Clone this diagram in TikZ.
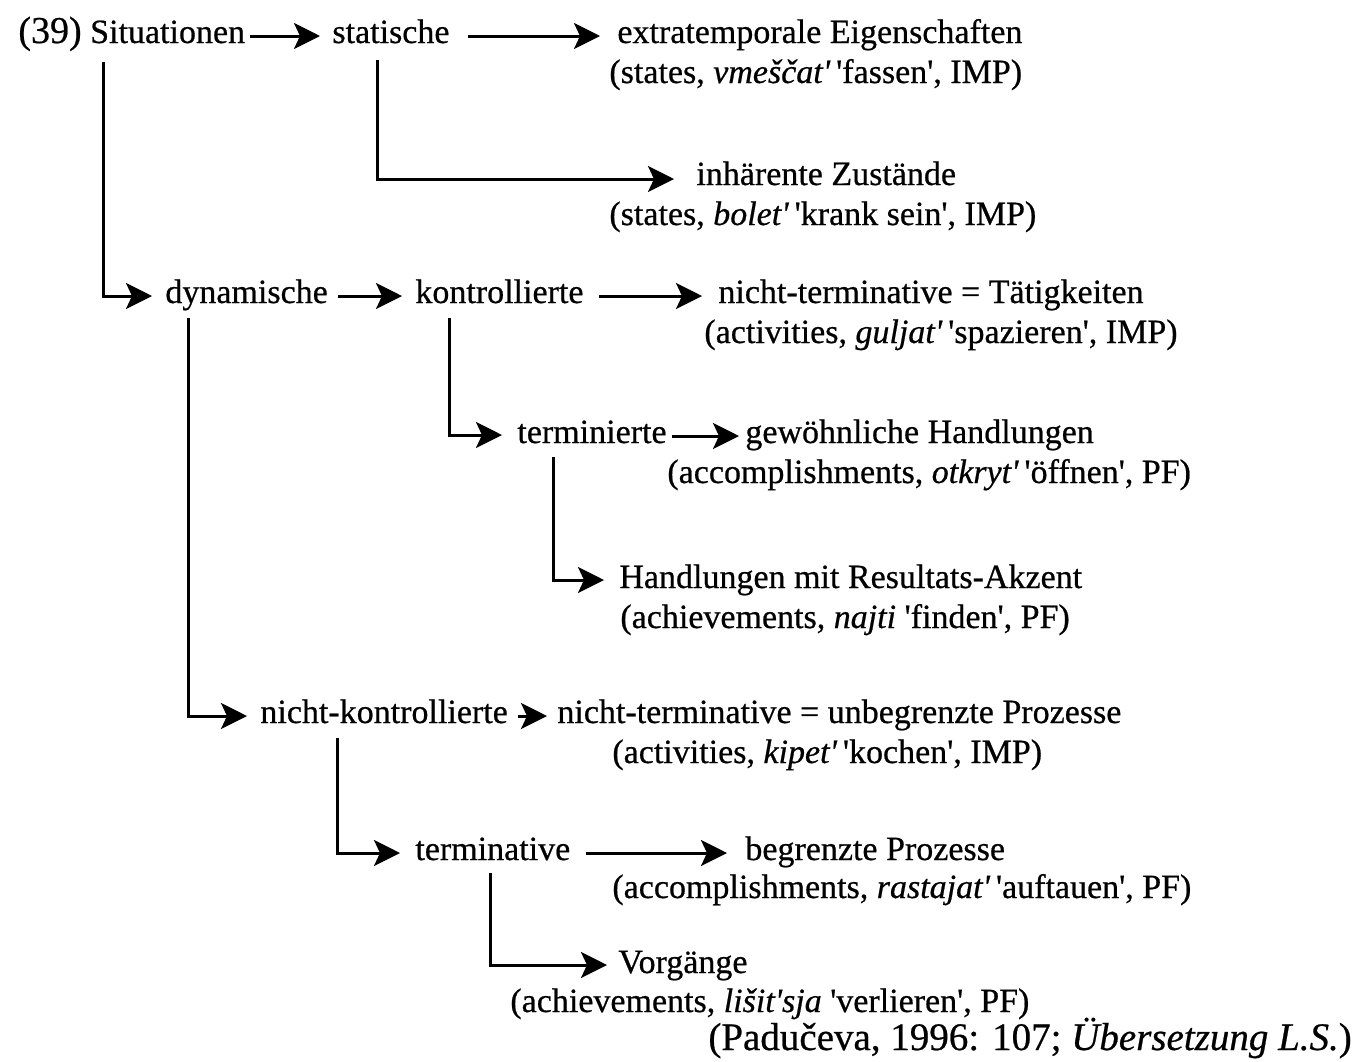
\documentclass[tikz,border=0pt]{standalone}
\usepackage{fontspec}
\setmainfont{Liberation Serif}[FakeBold=0.6]
\usetikzlibrary{arrows.meta,calc}
\newcommand{\apos}{\textquotesingle}
\begin{document}
\begin{tikzpicture}[x=0.5pt,y=-0.5pt,
  lbl/.style={anchor=base west,inner sep=0pt,font=\fontsize{17}{20}\selectfont},
  srclbl/.style={anchor=base west,inner sep=0pt,font=\fontsize{19.5}{23}\selectfont},
  conn/.style={line width=1.5pt,-{Stealth[length=13pt,width=13pt,inset=3pt]}},
  elbow/.style={conn}]
\useasboundingbox (0,0) rectangle (1354,1061);

% category labels
\node[lbl] (sit)   at (18,43)  {{\fontsize{19}{20}\selectfont(39)} Situationen};
\node[lbl] (stat)  at (332,43) {statische};
\node[lbl] (extra) at (617,43) {extratemporale Eigenschaften};
\node[lbl] (extraB) at (609,83) {(states, \textit{vmeščat\apos}\,\apos fassen\apos, IMP)};
\node[lbl] (inh)   at (696,185) {inhärente Zustände};
\node[lbl] (inhB)  at (609,225) {(states, \textit{bolet\apos}\,\apos krank sein\apos, IMP)};
\node[lbl] (dyn)   at (165,303) {dynamische};
\node[lbl] (kon)   at (415,303) {kontrollierte};
\node[lbl] (ntt)   at (718,303) {nicht-terminative = Tätigkeiten};
\node[lbl] (nttB)  at (704,343) {(activities, \textit{guljat\apos}\,\apos spazieren\apos, IMP)};
\node[lbl] (term)  at (517,443) {terminierte};
\node[lbl] (gew)   at (745,443) {gewöhnliche Handlungen};
\node[lbl] (gewB)  at (667,483) {(accomplishments, \textit{otkryt\apos}\,\apos öffnen\apos, PF)};
\node[lbl] (hmr)   at (619,588) {Handlungen mit Resultats-Akzent};
\node[lbl] (hmrB)  at (620,628) {(achievements, \textit{najti} \apos finden\apos, PF)};
\node[lbl] (nk)    at (260,723) {nicht-kontrollierte};
\node[lbl] (ntu)   at (557,723) {nicht-terminative = unbegrenzte Prozesse};
\node[lbl] (ntuB)  at (612,763) {(activities, \textit{kipet\apos}\,\apos kochen\apos, IMP)};
\node[lbl] (tv)    at (415,860) {terminative};
\node[lbl] (beg)   at (745,860) {begrenzte Prozesse};
\node[lbl] (begB)  at (612,898) {(accomplishments, \textit{rastajat\apos}\,\apos auftauen\apos, PF)};
\node[lbl] (vor)   at (618,973) {Vorgänge};
\node[lbl] (vorB)  at (510,1012) {(achievements, \textit{lišit\apos sja} \apos verlieren\apos, PF)};
\node[srclbl] (src) at (708,1050) {(Padučeva, 1996: 107; \textit{Übersetzung L.S.})};

% straight arrows along a row
\draw[conn] ($(sit.base east)+(5,-7)$)  -- ($(stat.base west)+(-12,-7)$);
\draw[conn] ($(stat.base east)+(18,-7)$) -- ($(extra.base west)+(-17,-7)$);
\draw[conn] ($(dyn.base east)+(10,-7)$) -- ($(kon.base west)+(-13,-7)$);
\draw[conn] ($(kon.base east)+(15,-7)$) -- ($(ntt.base west)+(-16,-7)$);
\draw[conn] ($(term.base east)+(5,-7)$) -- ($(gew.base west)+(-6,-7)$);
\draw[conn] ($(nk.base east)+(10,-7)$)  -- ($(ntu.base west)+(-10,-7)$);
\draw[conn] ($(tv.base east)+(15,-7)$)  -- ($(beg.base west)+(-18,-7)$);

% elbow arrows to subordinate categories
\draw[elbow] ($(sit.base west)+(85,19)$)  |- ($(dyn.base west)+(-13,-7)$);
\draw[elbow] ($(stat.base west)+(45,17)$) |- ($(inh.base west)+(-22,-6)$);
\draw[elbow] ($(kon.base west)+(34,15)$)  |- ($(term.base west)+(-15,-8)$);
\draw[elbow] ($(term.base west)+(36,14)$) |- ($(hmr.base west)+(-15,-8)$);
\draw[elbow] ($(dyn.base west)+(23,15)$)  |- ($(nk.base west)+(-13,-7)$);
\draw[elbow] ($(nk.base west)+(77,15)$)   |- ($(tv.base west)+(-15,-7)$);
\draw[elbow] ($(tv.base west)+(75,13)$)   |- ($(vor.base west)+(-11,-8)$);
\end{tikzpicture}
\end{document}
